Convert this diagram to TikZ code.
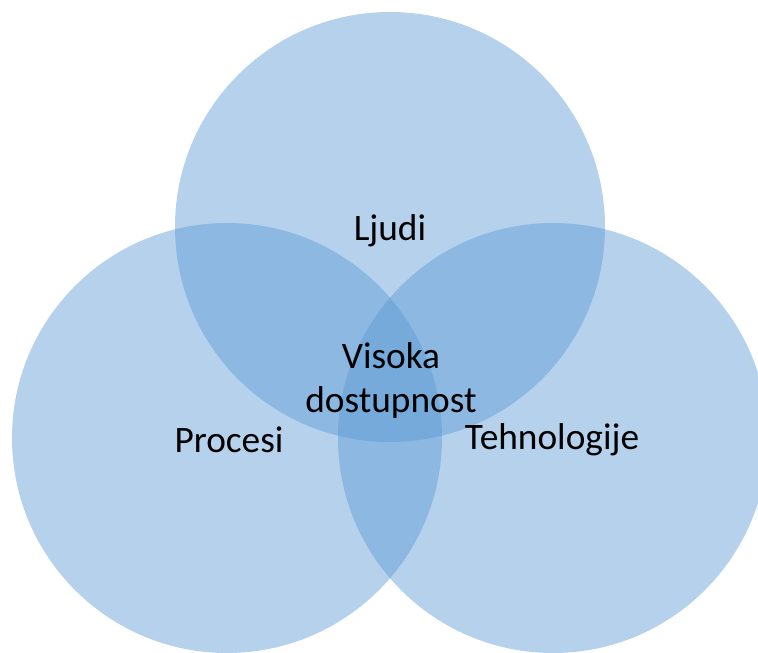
\documentclass[tikz,border=0pt]{standalone}
\usepackage{fontspec}
\setmainfont{Carlito}
\definecolor{venn}{RGB}{91,155,213}
\tikzset{
    zone/.style={fill=venn, fill opacity=0.45},
    lbl/.style={font=\fontsize{28}{33}\selectfont, text=black, align=center, inner sep=0pt}
}

\begin{document}
\begin{tikzpicture}[x=0.75pt, y=-0.75pt]
    \clip (0,0) rectangle (758,653);
    \fill[white] (0,0) rectangle (758,653);

    \fill[zone] (390,227) circle[radius=161.25pt];
    \fill[zone] (227,438) circle[radius=161.25pt];
    \fill[zone] (553,438) circle[radius=161.25pt];

    \node[lbl] (ljudi) at (390,231) {Ljudi};
    \node[lbl] (procesi) at (229,440) {Procesi};
    \node[lbl] (tehno) at (552,440) {Tehnologije};
    \node[lbl] (vd) at (391,381) {Visoka\\dostupnost};
\end{tikzpicture}
\end{document}
